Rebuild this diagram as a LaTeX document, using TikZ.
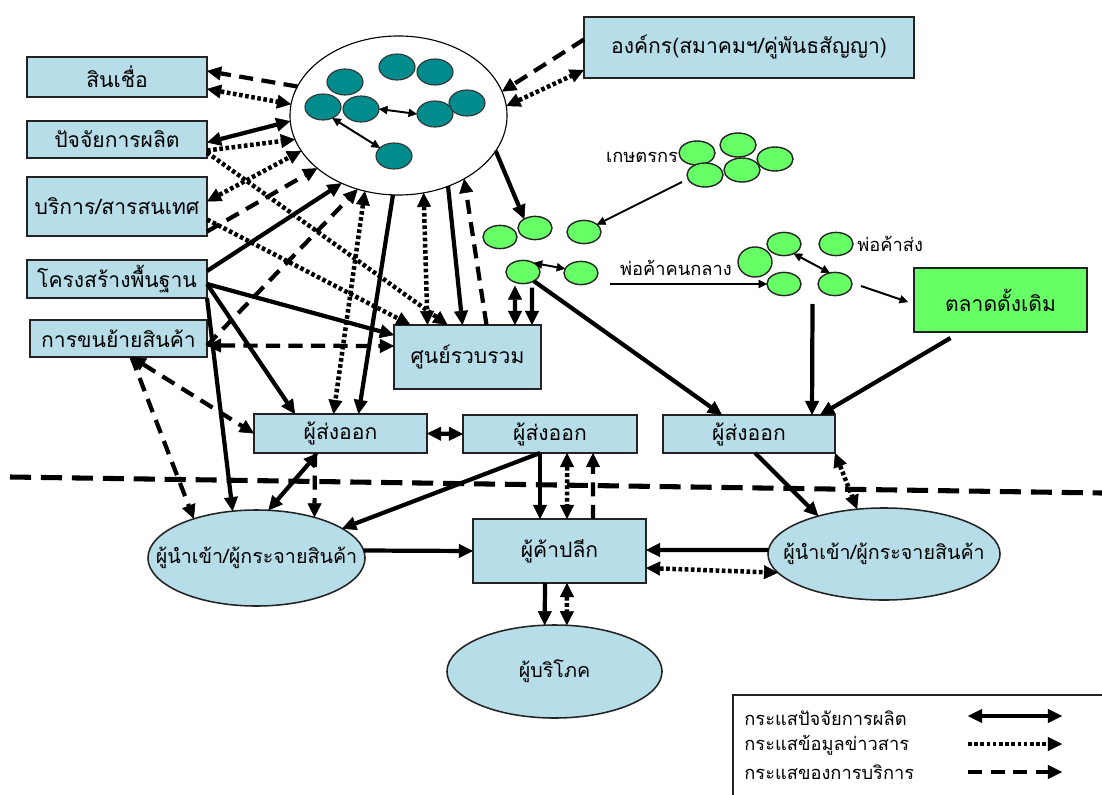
\documentclass[tikz,border=0pt]{standalone}
\usepackage{fontspec}
\usetikzlibrary{arrows.meta,shapes.geometric,calc}
\newfontfamily\thaifont[Script=Thai]{Loma}
\definecolor{boxblue}{RGB}{183,221,232}
\definecolor{hubteal}{RGB}{0,140,140}
\definecolor{leafgreen}{RGB}{102,255,102}
\definecolor{edgegray}{RGB}{35,35,35}

\begin{document}
\begin{tikzpicture}[x=0.025cm,y=-0.025cm,
  every node/.style={outer sep=0pt},
  box/.style={draw=edgegray, line width=1.1pt, fill=boxblue, inner sep=0pt,
    font=\thaifont\fontsize{15}{18}\selectfont},
  greenbox/.style={box, fill=leafgreen},
  oval/.style={ellipse, draw=edgegray, line width=1.1pt, fill=boxblue, inner sep=0pt},
  ovaltext/.style={font=\thaifont\fontsize{14}{17}\selectfont},
  tdot/.style={ellipse, draw=black!80, line width=0.8pt, fill=hubteal,
    minimum width=0.9cm, minimum height=0.65cm, inner sep=0pt},
  gdot/.style={ellipse, draw=black!85, line width=1pt, fill=leafgreen,
    minimum width=0.85cm, minimum height=0.58cm, inner sep=0pt},
  tag/.style={font=\thaifont\fontsize{13}{16}\selectfont, inner sep=1pt},
  lnSolid/.style={line width=3pt},
  lnDot/.style={line width=3.2pt, dash pattern=on 2.6pt off 1.8pt},
  lnDash/.style={line width=3pt, dash pattern=on 10pt off 6pt},
  lnThin/.style={line width=1.4pt},
  lnSep/.style={line width=3.6pt, dash pattern=on 15pt off 7pt},
  oneHead/.style={-{Triangle[length=10pt,width=10pt,line width=0.4pt]}},
  twoHead/.style={{Triangle[length=10pt,width=10pt,line width=0.4pt]}-{Triangle[length=10pt,width=10pt,line width=0.4pt]}},
  oneSmall/.style={-{Triangle[length=6pt,width=6pt,line width=0.3pt]}},
  twoSmall/.style={{Triangle[length=6pt,width=6pt,line width=0.3pt]}-{Triangle[length=6pt,width=6pt,line width=0.3pt]}}
]
\fill[white] (0,0) rectangle (1102,794);
\useasboundingbox (0,0) rectangle (1102,794);

% ---------- boundary between domestic and foreign market ----------
\draw[lnSep] (10,477) -- (1102,493);

% ---------- central cluster ----------
\node[ellipse, draw=black, line width=0.8pt, fill=white, minimum width=5.425cm,
      minimum height=3.975cm, inner sep=0pt] (hub) at (398.5,115.5) {};
\node[tdot] (t1) at (345,82) {};
\node[tdot] (t2) at (397,67) {};
\node[tdot] (t3) at (435,72) {};
\node[tdot] (t4) at (323,107) {};
\node[tdot] (t5) at (361,109) {};
\node[tdot] (t7) at (467,103) {};
\node[tdot] (t6) at (435,114) {};
\node[tdot] (t8) at (394,156) {};
\draw[lnThin,twoSmall] (t5.east) -- (t6.west);
\draw[lnThin,twoSmall] (t4.-50) -- (t8.150);

% ---------- left column of support boxes ----------
\node[box, minimum width=4.5cm, minimum height=1.0cm] (credit) at (117,77) {สินเชื่อ};
\node[box, minimum width=4.5cm, minimum height=0.925cm] (input) at (117,139.5) {ปัจจัยการผลิต};
\node[box, minimum width=4.5cm, minimum height=1.475cm] (service) at (117,206.5) {บริการ/สารสนเทศ};
\node[box, minimum width=4.5cm, minimum height=0.95cm] (infra) at (117,279) {โครงสร้างพื้นฐาน};
\node[box, minimum width=4.425cm, minimum height=0.925cm] (transport) at (118.5,338.5) {การขนย้ายสินค้า};

% ---------- organisation and market ----------
\node[box, minimum width=8.25cm, minimum height=1.525cm] (org) at (749,47.5) {องค์กร(สมาคมฯ/คู่พันธสัญญา)};
\node[greenbox, minimum width=4.325cm, minimum height=1.6cm] (market) at (1000.5,300) {ตลาดดั้งเดิม};

% ---------- trade chain ----------
\node[box, minimum width=3.675cm, minimum height=1.6cm] (collect) at (467.5,357) {ศูนย์รวบรวม};
\node[box, minimum width=4.325cm, minimum height=0.975cm] (exp1) at (340.5,433.5) {ผู้ส่งออก};
\node[box, minimum width=4.35cm, minimum height=0.95cm] (exp2) at (550,434) {ผู้ส่งออก};
\node[box, minimum width=4.3cm, minimum height=0.95cm] (exp3) at (749,434) {ผู้ส่งออก};
\node[box, minimum width=4.325cm, minimum height=1.6cm] (retail) at (559.5,551) {ผู้ค้าปลีก};
\node[oval, minimum width=5.425cm, minimum height=2.4cm,
      label={[ovaltext]center:ผู้นำเข้า/ผู้กระจายสินค้า}] (imp1) at (256.5,558) {};
\node[oval, minimum width=5.8cm, minimum height=2.3cm,
      label={[ovaltext]center:ผู้นำเข้า/ผู้กระจายสินค้า}] (imp2) at (884,554) {};
\node[oval, minimum width=5.375cm, minimum height=2.325cm,
      label={[ovaltext]center:ผู้บริโภค}] (consumer) at (554.5,671.5) {};

% ---------- farmers, middlemen, wholesalers ----------
\node[gdot] (g1) at (500,237) {};
\node[gdot] (g2) at (535,228) {};
\node[gdot] (g3) at (584,232) {};
\node[gdot] (g4) at (523,272) {};
\node[gdot] (g5) at (581,273) {};

\node[gdot, minimum width=0.9cm, minimum height=0.6cm] (f1) at (697,153) {};
\node[gdot, minimum width=0.9cm, minimum height=0.6cm] (f2) at (738,145) {};
\node[gdot, minimum width=0.9cm, minimum height=0.6cm] (f3) at (775,159) {};
\node[gdot, minimum width=0.9cm, minimum height=0.6cm] (f4) at (705,175) {};
\node[gdot, minimum width=0.9cm, minimum height=0.6cm] (f5) at (742,170) {};

\node[gdot, minimum width=0.85cm, minimum height=0.75cm] (w1) at (755,262) {};
\node[gdot] (w2) at (784,244) {};
\node[gdot] (w3) at (836,244) {};
\node[gdot] (w4) at (784,284) {};
\node[gdot] (w5) at (835,284) {};

\node[tag] (farmtag) at (642,157) {เกษตรกร};
\node[tag] (midtag) at (676,268) {พ่อค้าคนกลาง};
\node[tag, anchor=west] (wholetag) at (856,244) {พ่อค้าส่ง};
\coordinate (midstart) at (610,284);

\draw[lnThin,oneSmall] ($(f4.west)+(-5,7)$) -- (g3.30);
\draw[lnThin,twoSmall] (g4.40) -- (g5.165);
\draw[lnThin,oneSmall] (midstart) -- (w4.west);
\draw[lnThin,twoSmall] (w2.-45) -- (w5.115);
\draw[lnThin,oneSmall] ($(w5.east)+(9,2)$) -- ($(market.west)+(-6,2)$);

% ---------- links of the central cluster ----------
\draw[lnDash,oneHead] (hub.164) -- ($(credit.east)+(0,-6)$);
\draw[lnDot,twoHead] ($(credit.east)+(0,12)$) -- (hub.174);
\draw[lnSolid,twoHead] ($(input.east)+(0,3)$) -- (hub.183);
\draw[lnDot,oneHead] ($(input.east)+(0,11)$) -- (hub.193);
\draw[lnDot,oneHead] ($(input.east)+(0,13)$) -- ($(collect.north)+(-20,0)$);
\draw[lnDot,twoHead] ($(service.east)+(0,-5)$) -- (hub.200);
\draw[lnDot,oneHead] ($(service.east)+(0,13)$) -- ($(collect.north)+(-57,0)$);
\draw[lnDash,oneHead] ($(service.east)+(0,25)$) -- (hub.213);
\draw[lnSolid,oneHead] ($(infra.east)+(0,-8)$) -- (hub.230);
\draw[lnSolid,oneHead] ($(infra.east)+(0,5)$) -- ($(collect.west)+(0,-22)$);
\draw[lnSolid,oneHead] ($(infra.east)+(0,5)$) -- ($(exp1.north west)+(41,0)$);
\draw[lnSolid,oneHead] (infra.south east) -- (imp1.117);
\draw[lnDash,oneHead] ($(transport.east)+(0,7)$) -- (hub.241);
\draw[lnDash,twoHead] ($(transport.east)+(0,7)$) -- ($(collect.west)+(0,-11)$);
\draw[lnDash,twoHead] ($(transport.south)+(13,0)$) -- (exp1.west);
\draw[lnDash,oneHead] ($(transport.south)+(13,0)$) -- (imp1.148);

\draw[lnSolid,oneHead] (hub.266) -- ($(exp1.north)+(18,0)$);
\draw[lnDot,twoHead] (hub.246) -- ($(exp1.north)+(-7,0)$);
\draw[lnSolid,oneHead] (hub.305) -- ($(collect.north)+(-5,0)$);
\draw[lnDot,twoHead] (hub.288) -- ($(collect.north)+(-40,0)$);
\draw[lnDash,oneHead] ($(collect.north)+(19,0)$) -- (hub.316);
\draw[lnSolid,oneHead] (hub.340) -- (g2.140);

\draw[lnDash,oneHead] ($(org.west)+(0,-8)$) -- (hub.13);
\draw[lnDot,twoHead] (hub.5) -- ($(org.south west)+(0,-8)$);

% ---------- farm produce towards export ----------
\draw[lnSolid,twoHead] ($(g4.south)+(-8,2)$) -- ($(collect.north)+(47.5,0)$);
\draw[lnSolid,oneHead] ($(g4.south)+(9,4)$) -- ($(collect.north)+(64.5,0)$);
\draw[lnSolid,oneHead] (g4.-40) -- ($(exp3.north)+(-27,0)$);
\draw[lnSolid,oneHead] ($(w4)!0.5!(w5)+(3,20)$) -- ($(exp3.north)+(63,0)$);
\draw[lnSolid,oneHead] ($(market.south)+(-50,6)$) -- ($(exp3.north east)+(-15,0)$);

% ---------- exporters, importers and retail ----------
\draw[lnSolid,twoHead] (exp1.east) -- (exp2.west);
\draw[lnSolid,twoHead] ($(exp1.south west)+(64,0)$) -- (imp1.76);
\draw[lnDash,oneHead] ($(exp1.south west)+(61,0)$) -- (imp1.35);
\draw[lnSolid,oneHead] ($(exp2.south)+(-10,0)$) -- (imp1.19);
\draw[lnSolid,oneHead] ($(exp2.south)+(-10,0)$) -- ($(retail.north)+(-19.5,0)$);
\draw[lnDot,twoHead] ($(exp2.south)+(17,0)$) -- ($(retail.north)+(7.5,0)$);
\draw[lnDash,oneHead] ($(retail.north)+(33.5,0)$) -- ($(exp2.south)+(43,0)$);
\draw[lnSolid,oneHead] (imp1.4) -- (retail.west);
\draw[lnSolid,oneHead] (imp2.178) -- ($(retail.east)+(0,-1)$);
\draw[lnDot,twoHead] ($(retail.east)+(0,17)$) -- (imp2.190);
\draw[lnSolid,oneHead] ($(retail.south)+(-14.5,0)$) -- (consumer.102);
\draw[lnDot,twoHead] ($(retail.south)+(7.5,0)$) -- (consumer.75);
\draw[lnSolid,oneHead] ($(exp3.south)+(6,0)$) -- (imp2.150);
\draw[lnDot,twoHead] (exp3.south east) -- (imp2.121);

% ---------- legend ----------
\draw[line width=0.9pt, draw=edgegray] (1110,695) -- (733,695) -- (733,800);
\node[tag, anchor=west] (lg1) at (743,718) {กระแสปัจจัยการผลิต};
\node[tag, anchor=west] (lg2) at (743,745) {กระแสข้อมูลข่าวสาร};
\node[tag, anchor=west] (lg3) at (743,772) {กระแสของการบริการ};
\coordinate (la1) at (968,716); \coordinate (lb1) at (1062,716);
\coordinate (la2) at (968,744); \coordinate (lb2) at (1062,744);
\coordinate (la3) at (968,772); \coordinate (lb3) at (1062,772);
\draw[lnSolid,twoHead] (la1) -- (lb1);
\draw[lnDot,oneHead] (la2) -- (lb2);
\draw[lnDash,oneHead] (la3) -- (lb3);
\end{tikzpicture}
\end{document}
